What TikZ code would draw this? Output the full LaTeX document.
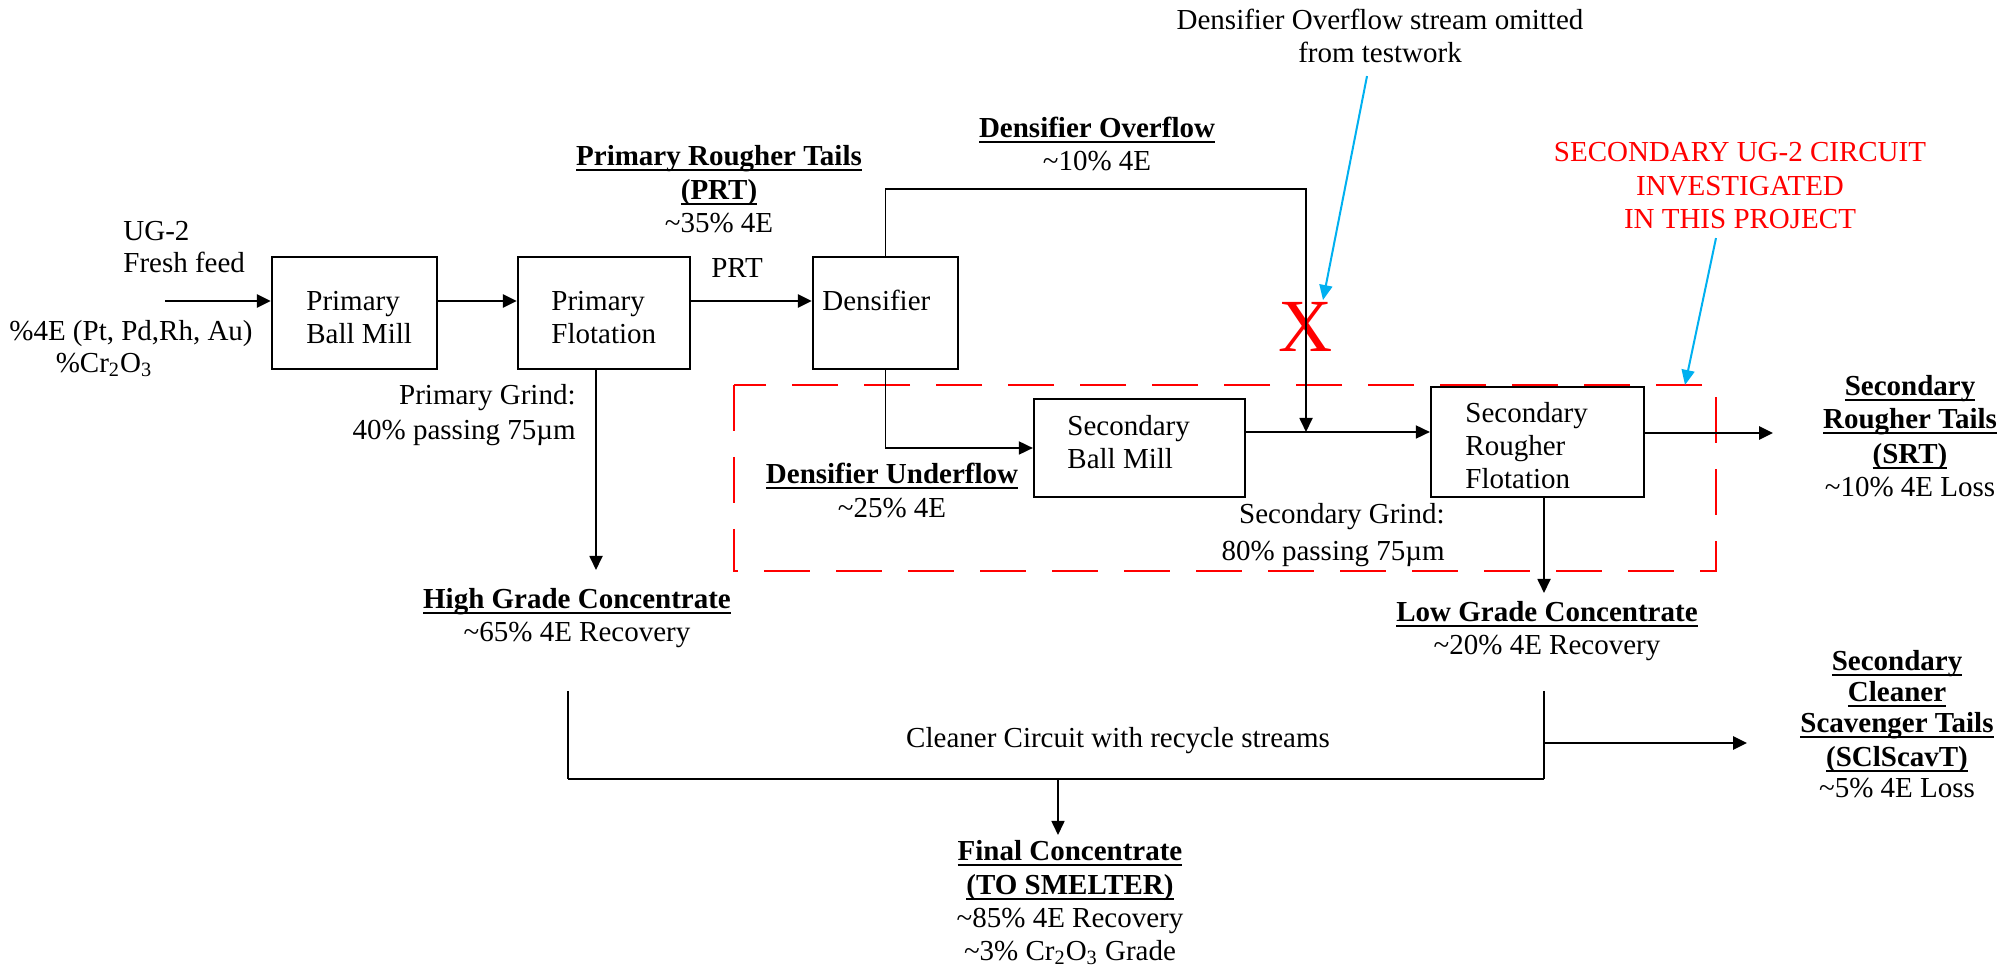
\documentclass[tikz,border=0pt]{standalone}
\usepackage{fontspec}
\setmainfont{Liberation Serif}
\usetikzlibrary{arrows.meta}
\definecolor{cyanarrow}{RGB}{0,176,240}
\definecolor{purered}{RGB}{255,0,0}
\newcommand\fs{\fontsize{14.5pt}{16.5pt}\selectfont}
\newcommand\fsb{\fontsize{14.5pt}{15.5pt}\selectfont}
\newsavebox\ulbx
\newcommand\myul[1]{\sbox\ulbx{\bfseries #1}\rlap{\rule[-3pt]{\wd\ulbx}{1.1pt}}\usebox\ulbx}
\newcommand\tld{\textasciitilde}
\begin{document}
\begin{tikzpicture}[x=0.5pt,y=-0.5pt,
  box/.style={draw, line width=1.1pt, inner sep=0},
  txt/.style={inner sep=0, font=\fs, align=center},
  arr/.style={-{Triangle[length=7pt,width=6.5pt]}},
  thick line/.style={line width=1.3pt},
  thin line/.style={line width=0.9pt},
  note arrow/.style={cyanarrow, line width=1pt, -{Triangle[length=7.5pt,width=6.5pt]}}]
\useasboundingbox (0,0) rectangle (2015,967);

% secondary circuit boundary
\draw[purered, line width=1.1pt, dash pattern=on 23pt off 13pt] (734,385) rectangle (1716,571);

% boxes
\node[box, minimum width=82.5pt, minimum height=56pt] (pbm) at (354.5,313) {};
\node[box, minimum width=86pt, minimum height=56pt] (pf) at (604,313) {};
\node[box, minimum width=72.5pt, minimum height=56pt] (dens) at (885.5,313) {};
\node[box, minimum width=105.5pt, minimum height=49pt] (sbm) at (1139.5,448) {};
\node[box, minimum width=106.5pt, minimum height=55pt] (srf) at (1537.5,442) {};

% box texts
\node[txt, align=left, anchor=north west] (pbmt) at (306,286.9) {\strut Primary\\Ball Mill};
\node[txt, align=left, anchor=north west] (pft) at (551,286.9) {\strut Primary\\Flotation};
\node[txt, align=left, anchor=north west] (denst) at (822,286.9) {\strut Densifier};
\node[txt, align=left, anchor=north west] (sbmt) at (1067,411.9) {\strut Secondary\\Ball Mill};
\node[txt, align=left, anchor=north west] (srft) at (1465,398.9) {\strut Secondary\\Rougher\\Flotation};

% labels
\node[txt, align=left, anchor=north west] (feedlbl) at (123,216.9) {\strut UG-2\\[-0.5pt]Fresh feed};
\node[txt, anchor=north] (grade1) at (131,316.9) {\strut\%4E (Pt, Pd,Rh, Au)};
\node[txt, anchor=north] (grade2) at (104,349) {\strut\%Cr\textsubscript{2}O\textsubscript{3}};
\node[txt, anchor=north] (prtlbl) at (719,141.9) {\strut\myul{Primary Rougher Tails}\\[0.5pt]\myul{(PRT)}\\\tld35\% 4E};
\node[txt, anchor=north] (prt) at (737,253.9) {\strut PRT};
\node[txt, anchor=north] (overlbl) at (1097,113.9) {\strut\myul{Densifier Overflow}\\\tld10\% 4E};
\node[txt, anchor=north] (note) at (1380,5.9) {\strut Densifier Overflow stream omitted\\from testwork};
\node[txt, anchor=north, text=purered] (redlbl) at (1740,137.9) {\strut SECONDARY UG-2 CIRCUIT\\[0.5pt]INVESTIGATED\\IN THIS PROJECT};
\node[txt, align=right, anchor=north east] (pgrind) at (576,380.9) {\strut Primary Grind:\\[1pt]40\% passing 75µm};
\node[txt, anchor=north] (underlbl) at (892,459.9) {\strut\myul{Densifier Underflow}\\[0.5pt]\tld25\% 4E};
\node[txt, align=right, anchor=north east] (sgrind) at (1445,499.9) {\strut Secondary Grind:\\[2pt]80\% passing 75µm};
\node[txt, anchor=north] (srtlbl) at (1910,371.9) {\strut\myul{Secondary}\\\myul{Rougher Tails}\\[1pt]\myul{(SRT)}\\\tld10\% 4E Loss};
\node[txt, anchor=north] (hgc) at (577,584.9) {\strut\myul{High Grade Concentrate}\\\tld65\% 4E Recovery};
\node[txt, anchor=north] (lgc) at (1547,597.9) {\strut\myul{Low Grade Concentrate}\\\tld20\% 4E Recovery};
\node[txt, anchor=north] (cleaner) at (1118,723.9) {\strut Cleaner Circuit with recycle streams};
\node[txt, anchor=north] (final) at (1070,836.9) {\strut\myul{Final Concentrate}\\[0.5pt]\myul{(TO SMELTER)}\\\tld85\% 4E Recovery\\\tld3\% Cr\textsubscript{2}O\textsubscript{3} Grade};
\node[txt, font=\fsb, anchor=north] (scl) at (1897,648.3) {\strut\myul{Secondary}\\\myul{Cleaner}\\\myul{Scavenger Tails}\\[1.5pt]\myul{(SClScavT)}\\\tld5\% 4E Loss};

% big red X
\node[inner sep=0, text=purered, font=\fontsize{37.5pt}{40pt}\selectfont] (bigx) at (1306,327) {X};

% coordinates for free ends
\coordinate (feed) at (165,301);
\coordinate (ovtop) at (1306,189);
\coordinate (ovjoin) at (1306,432);
\coordinate (srtend) at (1773,433);
\coordinate (lgctop) at (1544,593);
\coordinate (hgctop) at (596,570);
\coordinate (cltl) at (568,691);
\coordinate (clbl) at (568,779);
\coordinate (clbr) at (1544,779);
\coordinate (cltr) at (1544,691);
\coordinate (sclend) at (1747,743);
\coordinate (fctop) at (1058,835);
\coordinate (bndcorner) at (1685,385);
\coordinate (sbmout) at ([yshift=8pt]sbm.east);

% main flow
\draw[arr, thick line] (feed) -- (feed -| pbm.west);
\draw[arr, thick line] (feed -| pbm.east) -- (feed -| pf.west);
\draw[arr, thick line] (feed -| pf.east) -- (feed -| dens.west);
\draw[arr, thin line] (dens.north) |- (ovtop) -- (ovjoin);
\draw[arr, thin line] (dens.south) |- (sbm.west);
\draw[arr, thin line] (sbmout) -- (sbmout -| srf.west);
\draw[arr, thick line] (srtend -| srf.east) -- (srtend);
\draw[arr, thin line] (lgctop |- srf.south) -- (lgctop);
\draw[arr, thin line] (hgctop |- pf.south) -- (hgctop);

% cleaner circuit
\draw[line width=0.8pt] (cltl) -- (clbl);
\draw[line width=0.8pt] (cltr) -- (clbr);
\draw[line width=1.3pt] (clbl) -- (clbr);
\draw[arr, thick line] (sclend -| clbr) -- (sclend);
\draw[arr, line width=0.8pt] (fctop |- clbl) -- (fctop);

% note arrows
\draw[note arrow] ([xshift=-6.5pt,yshift=-6.5pt]note.south) -- ([xshift=8.5pt,yshift=1pt]bigx.north);
\draw[note arrow] ([xshift=-12pt,yshift=-4.5pt]redlbl.south) -- (bndcorner);
\end{tikzpicture}
\end{document}
